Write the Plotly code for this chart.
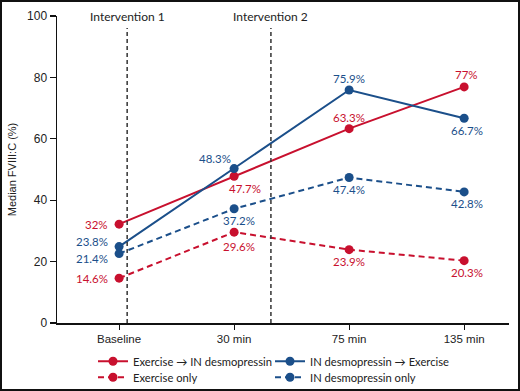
import plotly.graph_objects as go

# ---- data ----
categories = ["Baseline", "30 min", "75 min", "135 min"]
exercise_then_desmo = [32.2, 47.8, 63.3, 76.9]
desmo_then_exercise = [24.9, 50.3, 75.9, 66.7]
exercise_only = [14.6, 29.6, 23.9, 20.3]
desmo_only = [22.6, 37.2, 47.4, 42.7]

labels_exercise_then_desmo = ["32%", "47.7%", "63.3%", "77%"]
labels_desmo_then_exercise = ["23.8%", "48.3%", "75.9%", "66.7%"]
labels_exercise_only = ["14.6%", "29.6%", "23.9%", "20.3%"]
labels_desmo_only = ["21.4%", "37.2%", "47.4%", "42.8%"]

interventions = ["Intervention 1", "Intervention 2"]
intervention_pos = [0.07, 1.32]

y_ticks = [0, 20, 40, 60, 80, 100]

# ---- styling ----
RED = "#C8102E"
BLUE = "#1B4F8A"
LABEL_FONT = "Lato"
AXIS_FONT = "Liberation Sans, Arial"

W, H = 520, 391
ML, MR, MT, MB = 57, 11, 16, 68
PW, PH = W - ML - MR, H - MT - MB

xs = list(range(len(categories)))

# legend slot for each series: (id, left px, row centre px)
series = [
    ("Exercise \u2192 IN desmopressin", exercise_then_desmo, labels_exercise_then_desmo, RED, "solid",
     ("legend", 93, 361),
     [("right", -9, 0), ("center", 11, -12), ("center", 0, 11), ("center", 2, 12.5)]),
    ("IN desmopressin \u2192 Exercise", desmo_then_exercise, labels_desmo_then_exercise, BLUE, "solid",
     ("legend2", 270, 361),
     [("right", -9, 5), ("center", -19, 10), ("center", 0, 11), ("center", 3, -12)]),
    ("Exercise only", exercise_only, labels_exercise_only, RED, "6px,4px",
     ("legend3", 93, 377),
     [("right", -9, 0), ("center", 5, -14), ("center", 0, -12), ("center", 3, -12)]),
    ("IN desmopressin only", desmo_only, labels_desmo_only, BLUE, "6px,4px",
     ("legend4", 270, 377),
     [("right", -9, -5), ("center", 5, -12), ("center", 0, -12), ("center", 3, -12)]),
]

fig = go.Figure()
annotations = []
legends = {}
for name, vals, labs, color, dash, (leg, lx, ly), offs in series:
    fig.add_trace(go.Scatter(
        x=xs, y=vals, mode="lines+markers", name=name,
        line=dict(color=color, width=2, dash=dash),
        marker=dict(color=color, size=9),
        legend=leg, hoverinfo="skip",
    ))
    legends[leg] = dict(
        orientation="h", xref="paper", yref="paper", xanchor="left", yanchor="middle",
        x=(lx - ML) / PW, y=(322.7 - ly) / PH,
        font=dict(family=LABEL_FONT, size=11.2, color="#222222"),
        bgcolor="rgba(0,0,0,0)", itemwidth=30,
    )
    for xi, v, lab, (xa, dx, dy) in zip(xs, vals, labs, offs):
        annotations.append(dict(
            x=xi, y=v, xref="x", yref="y", text=lab, showarrow=False,
            xanchor=xa, yanchor="middle", xshift=dx, yshift=dy,
            font=dict(family=LABEL_FONT, size=11.5, color=color),
        ))

shapes = []
for name, pos in zip(interventions, intervention_pos):
    shapes.append(dict(type="line", xref="x", yref="paper", x0=pos, x1=pos, y0=0, y1=0.961,
                       line=dict(color="#333333", width=1.5, dash="4px,3px")))
    annotations.append(dict(x=pos, y=1.0, xref="x", yref="paper", text=name, showarrow=False,
                            xanchor="center", yanchor="middle", yshift=0,
                            font=dict(family=LABEL_FONT, size=12, color="#222222")))

# outer frame
shapes.append(dict(type="rect", xref="paper", yref="paper",
                   x0=(-ML + 1) / PW, x1=1 + (MR - 1) / PW,
                   y0=(-MB + 1) / PH, y1=1 + (MT - 1) / PH,
                   line=dict(color="#111111", width=2), fillcolor="rgba(0,0,0,0)", layer="above"))

fig.update_layout(
    width=W, height=H,
    margin=dict(l=ML, r=MR, t=MT, b=MB, pad=0, autoexpand=False),
    paper_bgcolor="white", plot_bgcolor="white",
    showlegend=True,
    xaxis=dict(range=[-0.54, 3.39], tickmode="array", tickvals=xs, ticktext=categories,
               showgrid=False, zeroline=False, showline=True, linecolor="#111111", linewidth=1.5,
               ticks="outside", ticklen=5, tickcolor="#111111", tickwidth=1.2, automargin=False,
               tickfont=dict(family=AXIS_FONT, size=11.5, color="#222222"), fixedrange=True),
    yaxis=dict(range=[0, 100], tickmode="array", tickvals=y_ticks, automargin=False,
               showgrid=False, zeroline=False, showline=True, linecolor="#111111", linewidth=1.5,
               ticks="outside", ticklen=6, tickcolor="#111111", tickwidth=1.2,
               tickfont=dict(family=AXIS_FONT, size=12, color="#222222"),
               title=dict(text="Median FVIII:C (%)", standoff=8,
                          font=dict(family=AXIS_FONT, size=11, color="#222222")),
               fixedrange=True),
    annotations=annotations,
    shapes=shapes,
    **legends,
)

fig.write_html(
    "out.html",
    config={"displayModeBar": False, "staticPlot": True},
    post_script="document.body.style.margin='0';document.documentElement.style.overflow='hidden';document.body.style.overflow='hidden';",
)
